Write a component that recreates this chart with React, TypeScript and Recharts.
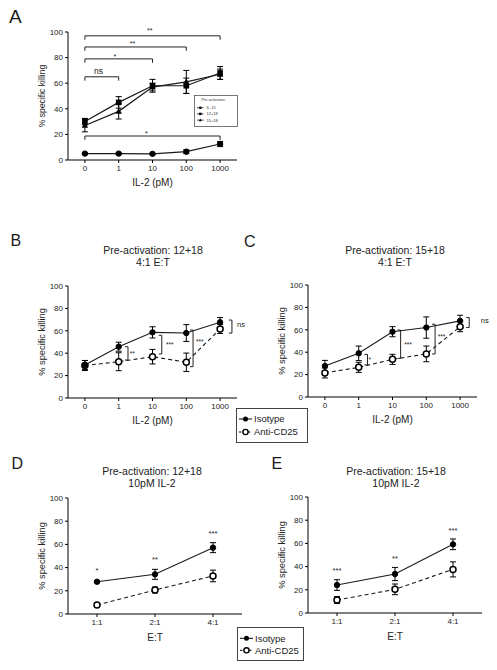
import React from 'react';
import { LineChart, Line, XAxis, YAxis, ErrorBar, ReferenceLine, ReferenceDot } from 'recharts';

const FONT = '"Liberation Sans", Arial, Helvetica, sans-serif';
const INK = '#1a1a1a';

// ---------- tick labels ----------
const il2Ticks = ['0', '1', '10', '100', '1000'];
const etTicks = ['1:1', '2:1', '4:1'];
const yTicks = [0, 20, 40, 60, 80, 100];

// ---------- Panel A ----------
const aNames = ['IL-15', '12+18', '15+18'];
const aIL15 = [5, 5, 4.8, 6.5, 12.5];
const aIL15Err = [0.8, 0.7, 0.6, 1.5, 2];
const a1218 = [30, 45, 58, 58, 68];
const a1218Err = [2.5, 4.5, 5, 6, 5];
const a1518 = [27, 38, 57, 61, 67];
const a1518Err = [5, 6, 3, 9, 4];
// horizontal significance brackets: from, to, level, text, text x, text y
const aSigFrom = [0, 0, 0, 0, 0];
const aSigTo = [1, 2, 3, 4, 4];
const aSigY = [65, 79, 88.3, 97, 18.75];
const aSigText = ['ns', '*', '**', '**', '*'];
const aSigTextX = [0.4, 0.89, 1.41, 1.92, 1.82];
const aSigTextY = [69.5, 80.8, 91.2, 100.8, 20.9];

// ---------- Panel B (12+18, 4:1) ----------
const bIso = [29.5, 45.8, 58.6, 58, 67.6];
const bIsoErr = [4, 4, 5, 7.5, 4.2];
const bAnti = [29, 32.4, 36.9, 31.9, 61.6];
const bAntiErr = [4.5, 8, 6.5, 8.2, 4];
const bSigX = [1.275, 2.275, 3.2, 4.35];
const bSigLow = [33.9, 39.3, 28, 58];
const bSigHigh = [45.8, 56, 60.7, 69.6];
const bSigText = ['**', '***', '***', 'ns'];
const bSigTextX = [1.4, 2.51, 3.4, 4.62];
const bSigTextY = [39.9, 47.7, 50.4, 66];

// ---------- Panel C (15+18, 4:1) ----------
const cIso = [27.7, 39, 58.3, 62, 68];
const cIsoErr = [5, 6.5, 4.5, 9.5, 5];
const cAnti = [21.5, 26.5, 33.6, 38.5, 62.8];
const cAntiErr = [4.5, 4.5, 4.5, 7, 4.5];
const cSigX = [1.26, 2.24, 3.26, 4.27];
const cSigLow = [28.6, 34.5, 38.4, 62];
const cSigHigh = [38, 59.8, 65, 71];
const cSigText = ['*', '***', '***', 'ns'];
const cSigTextX = [1.33, 2.46, 3.45, 4.73];
const cSigTextY = [33, 46.8, 53.9, 68.1];

// ---------- Panel D (12+18, 10pM) ----------
const dIso = [27.8, 34.2, 57.2];
const dIsoErr = [1, 4.3, 4.3];
const dAnti = [7.8, 20.7, 32.8];
const dAntiErr = [0.8, 2.6, 5];
const dStars = ['*', '**', '***'];
const dStarY = [37.9, 46.9, 69.6];

// ---------- Panel E (15+18, 10pM) ----------
const eIso = [24.1, 33.6, 59.2];
const eIsoErr = [4.6, 5.7, 4.6];
const eAnti = [11.2, 20.4, 37.6];
const eAntiErr = [3, 4.6, 6.5];
const eStars = ['***', '**', '***'];
const eStarY = [37, 47.2, 71.6];

// ---------- tables ----------
const aRows = il2Ticks.map((_, i) => ({
  x: i,
  il15: aIL15[i], il15Err: aIL15Err[i],
  s1218: a1218[i], s1218Err: a1218Err[i],
  s1518: a1518[i], s1518Err: a1518Err[i],
}));
const pairRows = (labels: string[], iso: number[], isoErr: number[], anti: number[], antiErr: number[]) =>
  labels.map((_, i) => ({ x: i, iso: iso[i], isoErr: isoErr[i], anti: anti[i], antiErr: antiErr[i] }));
const bRows = pairRows(il2Ticks, bIso, bIsoErr, bAnti, bAntiErr);
const cRows = pairRows(il2Ticks, cIso, cIsoErr, cAnti, cAntiErr);
const dRows = pairRows(etTicks, dIso, dIsoErr, dAnti, dAntiErr);
const eRows = pairRows(etTicks, eIso, eIsoErr, eAnti, eAntiErr);

// ---------- markers ----------
const squareDot = (p: any) => (
  <rect key={`sq${p.index}`} x={p.cx - 2.8} y={p.cy - 2.8} width={5.6} height={5.6} fill="#000" />
);
const triDot = (p: any) => (
  <path key={`tr${p.index}`} d={`M${p.cx},${p.cy - 3.4}L${p.cx + 3.2},${p.cy + 2.4}L${p.cx - 3.2},${p.cy + 2.4}Z`} fill="#000" />
);
const filledDot = { r: 2.7, fill: '#000', stroke: '#000', strokeWidth: 1 };
const openDot = (p: any) => (
  <circle key={`od${p.index}`} cx={p.cx} cy={p.cy} r={3} fill="#fff" stroke="#000" strokeWidth={1.5} />
);

const lineStroke = { stroke: INK, strokeWidth: 1 };

function xAxisEl(labels: string[], title: string, height: number) {
  return (
    <XAxis
      dataKey="x"
      type="number"
      domain={[-0.5, labels.length - 0.5]}
      ticks={labels.map((_, i) => i)}
      interval={0}
      allowDataOverflow
      tickFormatter={(v: number) => labels[v]}
      tick={{ fontSize: 8, fill: '#222', fontFamily: FONT }}
      tickSize={3}
      tickMargin={2}
      axisLine={{ stroke: '#000', strokeWidth: 1 }}
      tickLine={{ stroke: '#000', strokeWidth: 1 }}
      height={height}
      label={{ value: title, position: 'insideBottom', offset: 0, fontSize: 10, fill: '#222', fontFamily: FONT }}
    />
  );
}

function yAxisEl(labelSize: number, offset: number) {
  return (
    <YAxis
      type="number"
      domain={[0, 100]}
      ticks={yTicks}
      interval={0}
      allowDataOverflow
      width={68}
      tick={{ fontSize: 8, fill: '#222', fontFamily: FONT }}
      tickSize={3}
      tickMargin={2}
      axisLine={{ stroke: '#000', strokeWidth: 1 }}
      tickLine={{ stroke: '#000', strokeWidth: 1 }}
      label={{
        value: '% specific killing',
        angle: -90,
        position: 'insideLeft',
        offset,
        fill: '#222',
        fontFamily: FONT,
        fontSize: labelSize,
        style: { textAnchor: 'middle' },
      }}
    />
  );
}

function textDot(key: string, x: number, y: number, text: string, size: number) {
  return (
    <ReferenceDot
      key={key}
      x={x}
      y={y}
      r={0}
      fill="none"
      stroke="none"
      ifOverflow="visible"
      label={{ value: text, position: 'center', fontSize: size, fill: '#222', fontFamily: FONT }}
    />
  );
}

function seg(key: string, x1: number, y1: number, x2: number, y2: number) {
  return (
    <ReferenceLine
      key={key}
      segment={[{ x: x1, y: y1 }, { x: x2, y: y2 }]}
      stroke="#222"
      strokeWidth={1}
      ifOverflow="visible"
    />
  );
}

function vBrackets(prefix: string, xs: number[], lows: number[], highs: number[], texts: string[], tx: number[], ty: number[]) {
  const out: any[] = [];
  xs.forEach((x, i) => {
    out.push(seg(`${prefix}v${i}`, x, lows[i], x, highs[i]));
    out.push(seg(`${prefix}t${i}`, x - 0.09, highs[i], x, highs[i]));
    out.push(seg(`${prefix}b${i}`, x - 0.09, lows[i], x, lows[i]));
    out.push(textDot(`${prefix}l${i}`, tx[i], ty[i], texts[i], texts[i] === 'ns' ? 7.5 : 6.5));
  });
  return out;
}

function hBrackets() {
  const out: any[] = [];
  aSigY.forEach((y, i) => {
    out.push(seg(`ah${i}`, aSigFrom[i], y, aSigTo[i], y));
    out.push(seg(`al${i}`, aSigFrom[i], y, aSigFrom[i], y - 3));
    out.push(seg(`ar${i}`, aSigTo[i], y, aSigTo[i], y - 3));
    out.push(textDot(`at${i}`, aSigTextX[i], aSigTextY[i], aSigText[i], aSigText[i] === 'ns' ? 8.5 : 7));
  });
  return out;
}

function pairLines() {
  return [
    <Line key="anti" dataKey="anti" {...lineStroke} strokeWidth={1.1} strokeDasharray="4 3" dot={openDot} activeDot={false} isAnimationActive={false}>
      <ErrorBar dataKey="antiErr" width={3} stroke="#000" strokeWidth={1} strokeDasharray="0" direction="y" />
    </Line>,
    <Line key="iso" dataKey="iso" {...lineStroke} strokeWidth={1.1} dot={filledDot} activeDot={false} isAnimationActive={false}>
      <ErrorBar dataKey="isoErr" width={3} stroke="#000" strokeWidth={1} direction="y" />
    </Line>,
  ];
}

const abs = (left: number, top: number): React.CSSProperties => ({ position: 'absolute', left, top });

export default function App() {
  return (
    <div style={{ position: 'absolute', left: 0, top: 0, width: 497, height: 670, background: '#fff', fontFamily: FONT, overflow: 'hidden' }}>
      {/* Panel A */}
      <div style={abs(0, 0)}>
        <LineChart width={245} height={190} data={aRows} margin={{ top: 32, right: 8, bottom: 4, left: 0 }}>
          {xAxisEl(il2Ticks, 'IL-2 (pM)', 26)}
          {yAxisEl(8.6, 42)}
          {hBrackets()}
          <Line dataKey="il15" {...lineStroke} strokeWidth={1.2} dot={filledDot} activeDot={false} isAnimationActive={false}>
            <ErrorBar dataKey="il15Err" width={3} stroke="#000" strokeWidth={1} direction="y" />
          </Line>
          <Line dataKey="s1518" {...lineStroke} strokeWidth={1.2} dot={triDot} activeDot={false} isAnimationActive={false}>
            <ErrorBar dataKey="s1518Err" width={3} stroke="#000" strokeWidth={1} direction="y" />
          </Line>
          <Line dataKey="s1218" {...lineStroke} strokeWidth={1.2} dot={squareDot} activeDot={false} isAnimationActive={false}>
            <ErrorBar dataKey="s1218Err" width={3} stroke="#000" strokeWidth={1} direction="y" />
          </Line>
        </LineChart>
      </div>

      {/* Panel B */}
      <div style={abs(0, 230)}>
        <LineChart width={255} height={198} data={bRows} margin={{ top: 56, right: 18, bottom: 4, left: 0 }}>
          {xAxisEl(il2Ticks, 'IL-2 (pM)', 26)}
          {yAxisEl(9.3, 41.5)}
          {vBrackets('b', bSigX, bSigLow, bSigHigh, bSigText, bSigTextX, bSigTextY)}
          {pairLines()}
        </LineChart>
      </div>

      {/* Panel C */}
      <div style={abs(240, 230)}>
        <LineChart width={257} height={198} data={cRows} margin={{ top: 55, right: 20, bottom: 5, left: 0 }}>
          {xAxisEl(il2Ticks, 'IL-2 (pM)', 26)}
          {yAxisEl(9.3, 41.5)}
          {vBrackets('c', cSigX, cSigLow, cSigHigh, cSigText, cSigTextX, cSigTextY)}
          {pairLines()}
        </LineChart>
      </div>

      {/* Panel D */}
      <div style={abs(0, 450)}>
        <LineChart width={250} height={195} data={dRows} margin={{ top: 48, right: 8, bottom: 4, left: 0 }}>
          {xAxisEl(etTicks, 'E:T', 27)}
          {yAxisEl(9.3, 41.5)}
          {dStars.map((s, i) => textDot(`ds${i}`, i, dStarY[i], s, 7.5))}
          {pairLines()}
        </LineChart>
      </div>

      {/* Panel E */}
      <div style={abs(240, 450)}>
        <LineChart width={250} height={195} data={eRows} margin={{ top: 47, right: 8, bottom: 5, left: 0 }}>
          {xAxisEl(etTicks, 'E:T', 27)}
          {yAxisEl(9.3, 41.5)}
          {eStars.map((s, i) => textDot(`es${i}`, i, eStarY[i], s, 7.5))}
          {pairLines()}
        </LineChart>
      </div>

      {/* Letters, titles and legends */}
      <svg width={497} height={670} style={{ position: 'absolute', left: 0, top: 0, pointerEvents: 'none' }} fontFamily={FONT}>
        <g fill={INK}>
          <text x={9} y={23} fontSize={19}>A</text>
          <text x={10.5} y={246} fontSize={16}>B</text>
          <text x={244} y={247} fontSize={16}>C</text>
          <text x={11.5} y={469} fontSize={16}>D</text>
          <text x={271.5} y={469} fontSize={16}>E</text>
        </g>
        <g fill="#222" fontSize={10.5} textAnchor="middle">
          <text x={153} y={253.7}>Pre-activation: 12+18</text>
          <text x={153} y={265.7}>4:1 E:T</text>
          <text x={395} y={253.7}>Pre-activation: 15+18</text>
          <text x={395} y={265.7}>4:1 E:T</text>
          <text x={152} y={475}>Pre-activation: 12+18</text>
          <text x={152} y={486.5}>10pM IL-2</text>
          <text x={396} y={475}>Pre-activation: 15+18</text>
          <text x={396} y={486.5}>10pM IL-2</text>
        </g>

        {/* Legend A */}
        <rect x={194.5} y={95.5} width={43} height={31} fill="#fff" stroke="#555" strokeWidth={0.8} />
        <text x={201.5} y={100.8} fontSize={3.8} fill="#333">Pre-activation:</text>
        {aNames.map((n, i) => {
          const y = 107.7 + i * 6.2;
          return (
            <g key={n}>
              <line x1={197} y1={y} x2={203.6} y2={y} stroke="#000" strokeWidth={0.7} />
              {i === 0 && <circle cx={200.3} cy={y} r={1.3} fill="#000" />}
              {i === 1 && <rect x={199.1} y={y - 1.2} width={2.4} height={2.4} fill="#000" />}
              {i === 2 && <path d={`M200.3,${y - 1.5}L201.7,${y + 1.1}L198.9,${y + 1.1}Z`} fill="#000" />}
              <text x={206.5} y={y + 1.4} fontSize={4} fill="#333">{n}</text>
            </g>
          );
        })}

        {/* Legend B/C */}
        <rect x={236.5} y={408.5} width={71} height={34} fill="#fff" stroke="#444" strokeWidth={1} />
        <line x1={239} y1={419} x2={252} y2={419} stroke="#000" strokeWidth={1} />
        <circle cx={245.5} cy={419} r={2.5} fill="#000" />
        <text x={254} y={422.3} fontSize={9.5} fill="#222">Isotype</text>
        <line x1={239} y1={432} x2={252} y2={432} stroke="#000" strokeWidth={1} strokeDasharray="2.5 2" />
        <circle cx={245.5} cy={432} r={2.6} fill="#fff" stroke="#000" strokeWidth={1.4} />
        <text x={254} y={435.3} fontSize={9.5} fill="#222">Anti-CD25</text>

        {/* Legend D/E */}
        <rect x={237.5} y={627.5} width={66} height={33} fill="#fff" stroke="#444" strokeWidth={1} />
        <line x1={240} y1={638.3} x2={253} y2={638.3} stroke="#000" strokeWidth={1} />
        <circle cx={246.5} cy={638.3} r={2.5} fill="#000" />
        <text x={255} y={641.6} fontSize={9.5} fill="#222">Isotype</text>
        <line x1={240} y1={650.3} x2={253} y2={650.3} stroke="#000" strokeWidth={1} strokeDasharray="2.5 2" />
        <circle cx={246.5} cy={650.3} r={2.6} fill="#fff" stroke="#000" strokeWidth={1.4} />
        <text x={255} y={653.6} fontSize={9.5} fill="#222">Anti-CD25</text>
      </svg>
    </div>
  );
}
